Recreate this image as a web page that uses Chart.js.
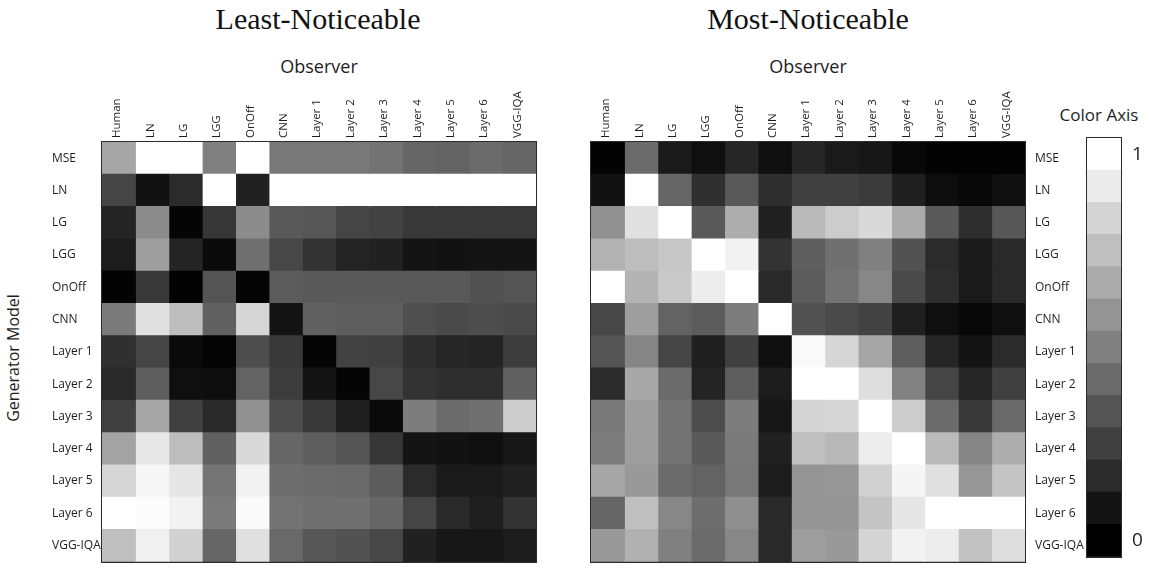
<!DOCTYPE html>
<html>
<head>
<meta charset="utf-8">
<title>Least- and Most-Noticeable</title>
<script src="https://cdn.jsdelivr.net/npm/chart.js@4.4.1/dist/chart.umd.min.js"></script>
<style>
  html, body { margin: 0; padding: 0; background: #fff; }
  #stage { position: relative; width: 1149px; height: 579px; overflow: hidden;
           font-family: "Open Sans", "Noto Sans", sans-serif; color: #1e1e1e; }
  #stage canvas { position: absolute; top: 0; }
  .title { position: absolute; top: 4px; font-family: "Liberation Serif", "DejaVu Serif", serif;
           font-size: 30px; line-height: 30px; white-space: nowrap; transform: translateX(-50%); color: #111; }
  .axis-name { position: absolute; top: 57px; font-size: 18px; line-height: 18px; white-space: nowrap;
               transform: translateX(-50%); }
  .side-name { position: absolute; left: 13px; top: 358px; font-size: 16px; line-height: 16px; white-space: nowrap;
               transform: translate(-50%, -50%) rotate(-90deg); }
  .bar-name { position: absolute; left: 1099px; top: 106px; font-size: 17px; line-height: 17px; white-space: nowrap;
              transform: translateX(-50%); }
</style>
</head>
<body>
<div id="stage">
  <div class="title" style="left:318px">Least-Noticeable</div>
  <div class="title" style="left:808px">Most-Noticeable</div>
  <div class="axis-name" style="left:319px">Observer</div>
  <div class="axis-name" style="left:808px">Observer</div>
  <div class="side-name">Generator Model</div>
  <div class="bar-name">Color Axis</div>
  <canvas id="least" width="540" height="579" style="left:0px"></canvas>
  <canvas id="most" width="540" height="579" style="left:545px"></canvas>
  <canvas id="colorbar" width="64" height="579" style="left:1085px"></canvas>
</div>
<script>
// Observers (columns) and generator models (rows)
const observers = ['Human', 'LN', 'LG', 'LGG', 'OnOff', 'CNN', 'Layer 1', 'Layer 2',
                   'Layer 3', 'Layer 4', 'Layer 5', 'Layer 6', 'VGG-IQA'];
const generators = ['MSE', 'LN', 'LG', 'LGG', 'OnOff', 'CNN', 'Layer 1', 'Layer 2',
                    'Layer 3', 'Layer 4', 'Layer 5', 'Layer 6', 'VGG-IQA'];

// Least-noticeable distortions: one row per generator, one entry per observer (0..1)
const leastNoticeable = [
  [0.65, 1.00, 1.00, 0.50, 1.00, 0.47, 0.47, 0.47, 0.45, 0.40, 0.39, 0.42, 0.40],
  [0.27, 0.07, 0.17, 1.00, 0.13, 1.00, 1.00, 1.00, 1.00, 1.00, 1.00, 1.00, 1.00],
  [0.14, 0.55, 0.02, 0.21, 0.55, 0.35, 0.34, 0.27, 0.26, 0.22, 0.22, 0.22, 0.22],
  [0.11, 0.62, 0.14, 0.04, 0.44, 0.28, 0.20, 0.14, 0.13, 0.08, 0.07, 0.08, 0.08],
  [0.01, 0.22, 0.01, 0.33, 0.02, 0.36, 0.35, 0.35, 0.35, 0.35, 0.35, 0.32, 0.33],
  [0.48, 0.88, 0.74, 0.38, 0.84, 0.08, 0.38, 0.37, 0.37, 0.31, 0.29, 0.30, 0.29],
  [0.19, 0.27, 0.04, 0.02, 0.30, 0.22, 0.02, 0.26, 0.25, 0.18, 0.15, 0.14, 0.24],
  [0.16, 0.37, 0.06, 0.05, 0.39, 0.24, 0.08, 0.02, 0.28, 0.20, 0.18, 0.18, 0.38],
  [0.25, 0.65, 0.25, 0.16, 0.57, 0.30, 0.22, 0.12, 0.04, 0.49, 0.42, 0.44, 0.80],
  [0.64, 0.91, 0.74, 0.38, 0.85, 0.40, 0.37, 0.33, 0.21, 0.08, 0.07, 0.06, 0.09],
  [0.84, 0.97, 0.90, 0.46, 0.95, 0.43, 0.42, 0.41, 0.36, 0.17, 0.10, 0.10, 0.13],
  [1.00, 0.99, 0.95, 0.48, 0.98, 0.45, 0.44, 0.44, 0.40, 0.27, 0.16, 0.12, 0.20],
  [0.75, 0.94, 0.82, 0.40, 0.88, 0.41, 0.34, 0.32, 0.28, 0.13, 0.09, 0.09, 0.11]
];

// Most-noticeable distortions
const mostNoticeable = [
  [0.01, 0.42, 0.10, 0.06, 0.15, 0.06, 0.15, 0.10, 0.09, 0.03, 0.01, 0.01, 0.01],
  [0.07, 1.00, 0.40, 0.19, 0.35, 0.18, 0.25, 0.25, 0.23, 0.12, 0.05, 0.03, 0.06],
  [0.57, 0.88, 1.00, 0.35, 0.68, 0.13, 0.73, 0.80, 0.85, 0.67, 0.35, 0.18, 0.34],
  [0.70, 0.74, 0.78, 1.00, 0.95, 0.20, 0.37, 0.44, 0.50, 0.32, 0.17, 0.10, 0.16],
  [1.00, 0.70, 0.79, 0.93, 1.00, 0.16, 0.36, 0.45, 0.53, 0.29, 0.18, 0.10, 0.16],
  [0.28, 0.62, 0.39, 0.36, 0.49, 1.00, 0.32, 0.29, 0.26, 0.12, 0.06, 0.03, 0.06],
  [0.33, 0.52, 0.27, 0.12, 0.25, 0.06, 0.98, 0.84, 0.65, 0.37, 0.15, 0.08, 0.17],
  [0.17, 0.66, 0.42, 0.14, 0.37, 0.11, 1.00, 1.00, 0.87, 0.51, 0.27, 0.15, 0.25],
  [0.47, 0.62, 0.45, 0.30, 0.49, 0.09, 0.83, 0.84, 1.00, 0.80, 0.42, 0.22, 0.41],
  [0.49, 0.62, 0.45, 0.35, 0.48, 0.13, 0.75, 0.72, 0.93, 1.00, 0.73, 0.52, 0.68],
  [0.65, 0.60, 0.42, 0.39, 0.47, 0.11, 0.58, 0.59, 0.82, 0.96, 0.88, 0.59, 0.77],
  [0.40, 0.75, 0.53, 0.43, 0.56, 0.16, 0.58, 0.58, 0.77, 0.90, 1.00, 1.00, 1.00],
  [0.60, 0.69, 0.50, 0.42, 0.53, 0.16, 0.62, 0.60, 0.83, 0.95, 0.93, 0.76, 0.87]
];

// Discrete steps of the colour axis, top (1) to bottom (0), and their tick labels
const colorSteps = [1.00, 0.92, 0.83, 0.75, 0.67, 0.58, 0.50, 0.42, 0.33, 0.25, 0.17, 0.08, 0.00];
const colorTicks = ['1', '', '', '', '', '', '', '', '', '', '', '', '0'];

Chart.defaults.font.family = '"Open Sans", "Noto Sans", sans-serif';
Chart.defaults.color = '#1e1e1e';

const FRAME = '#2b2b2b';
const rowFont = { size: 12 };
const colFont = { size: 11.5 };

function gray(v) {
  const g = Math.round(v * 255);
  return `rgb(${g},${g},${g})`;
}

// Each observer becomes one stacked dataset; every cell is one unit wide,
// filled with the grey of its value.
function heatDatasets(matrix) {
  return observers.map((obs, j) => ({
    label: obs,
    data: generators.map(() => 1),
    backgroundColor: matrix.map(row => gray(row[j])),
    borderWidth: 0,
    inflateAmount: 0.5,
    barPercentage: 1,
    categoryPercentage: 1
  }));
}

function frameAxis(position, labels) {
  const base = {
    position,
    grid: { display: false, drawTicks: false },
    border: { display: true, color: FRAME, width: 2 },
    ticks: { display: false }
  };
  if (labels) { base.type = 'category'; base.labels = labels; base.offset = true; }
  return base;
}

function heatOptions(rowSide) {
  const otherSide = rowSide === 'left' ? 'right' : 'left';
  return {
    responsive: false,
    animation: false,
    indexAxis: 'y',
    layout: {
      padding: rowSide === 'left'
        ? { left: 52, right: 4, top: 0, bottom: 3 }
        : { left: 46, right: 0, top: 0, bottom: 3 }
    },
    plugins: { legend: { display: false }, tooltip: { enabled: false } },
    scales: {
      x: Object.assign(frameAxis('bottom'), {
        type: 'linear', stacked: true, min: 0, max: observers.length,
        afterFit: s => { s.height = 0; }
      }),
      y: {
        type: 'category', labels: generators, position: rowSide, stacked: true, offset: true,
        grid: { display: false, drawTicks: false },
        border: { display: true, color: FRAME, width: 2 },
        ticks: {
          autoSkip: false, font: rowFont, padding: 10,
          crossAlign: rowSide === 'left' ? 'far' : 'near'
        },
        afterFit: s => { s.width = rowSide === 'left' ? 50 : 60; }
      },
      xTop: {
        type: 'category', labels: observers, position: 'top', offset: true,
        grid: { display: false, drawTicks: false },
        border: { display: true, color: FRAME, width: 2 },
        ticks: { autoSkip: false, minRotation: 90, maxRotation: 90, font: colFont,
                 padding: 4, labelOffset: 12 },
        afterFit: s => { s.height = 142; }
      },
      yEdge: Object.assign(frameAxis(otherSide, generators), {
        afterFit: s => { s.width = 0; }
      })
    }
  };
}

new Chart(document.getElementById('least'), {
  type: 'bar',
  data: { labels: generators, datasets: heatDatasets(leastNoticeable) },
  options: heatOptions('left')
});

new Chart(document.getElementById('most'), {
  type: 'bar',
  data: { labels: generators, datasets: heatDatasets(mostNoticeable) },
  options: heatOptions('right')
});

// Colour axis: a single stacked column of discrete grey steps
new Chart(document.getElementById('colorbar'), {
  type: 'bar',
  data: {
    labels: colorTicks,
    datasets: [{
      data: colorSteps.map(() => 1),
      backgroundColor: colorSteps.map(gray),
      borderWidth: 0,
      inflateAmount: 0.5,
      barPercentage: 1,
      categoryPercentage: 1
    }]
  },
  options: {
    responsive: false,
    animation: false,
    indexAxis: 'y',
    layout: { padding: { left: 2, right: 0, top: 0, bottom: 6 } },
    plugins: { legend: { display: false }, tooltip: { enabled: false } },
    scales: {
      x: Object.assign(frameAxis('bottom'), {
        type: 'linear', min: 0, max: 1,
        afterFit: s => { s.height = 0; }
      }),
      y: {
        type: 'category', labels: colorTicks, position: 'right', offset: true,
        grid: { display: false, drawTicks: false },
        border: { display: true, color: FRAME, width: 2 },
        ticks: { autoSkip: false, font: { size: 19 }, padding: 11, crossAlign: 'near' },
        afterFit: s => { s.width = 28; }
      },
      xTop: Object.assign(frameAxis('top', ['']), {
        afterFit: s => { s.height = 138; }
      }),
      yEdge: Object.assign(frameAxis('left', colorTicks), {
        afterFit: s => { s.width = 0; }
      })
    }
  }
});
</script>
</body>
</html>
